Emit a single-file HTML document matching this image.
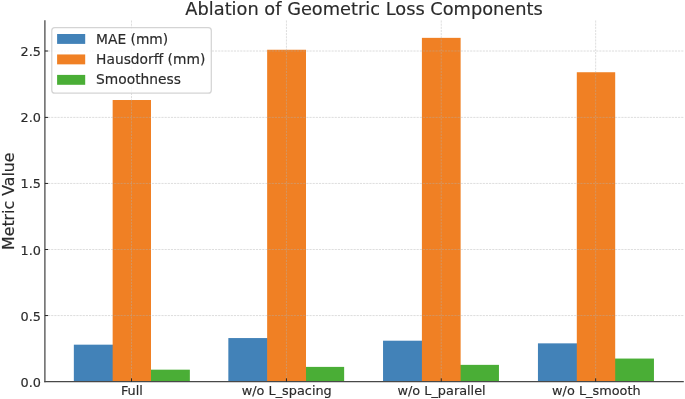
<!DOCTYPE html>
<html lang="en"><head><meta charset="utf-8"><title>Ablation of Geometric Loss Components</title>
<style>html,body{margin:0;padding:0;background:#fff;overflow:hidden}svg{display:block}text{font-family:"DejaVu Sans","Liberation Sans",sans-serif;fill:#2a2a2a;stroke:#2a2a2a;stroke-width:0.16px}</style>
</head><body>
<svg xmlns="http://www.w3.org/2000/svg" width="685" height="399" viewBox="0 0 685 399">
<rect x="0" y="0" width="685" height="399" fill="#ffffff"/>
<g shape-rendering="auto">
<rect x="73.84" y="344.67" width="39.51" height="37.03" fill="#4282B8"/>
<rect x="150.30" y="369.67" width="39.55" height="12.03" fill="#4AAE36"/>
<rect x="112.65" y="100.01" width="38.35" height="281.69" fill="#F08024"/>
<rect x="228.34" y="338.06" width="39.51" height="43.64" fill="#4282B8"/>
<rect x="305.30" y="366.89" width="38.85" height="14.81" fill="#4AAE36"/>
<rect x="267.15" y="49.75" width="38.85" height="331.95" fill="#F08024"/>
<rect x="383.04" y="340.70" width="39.56" height="41.00" fill="#4282B8"/>
<rect x="459.93" y="364.86" width="39.02" height="16.84" fill="#4AAE36"/>
<rect x="421.90" y="37.85" width="38.73" height="343.85" fill="#F08024"/>
<rect x="537.94" y="343.35" width="39.56" height="38.35" fill="#4282B8"/>
<rect x="614.50" y="358.56" width="39.45" height="23.14" fill="#4AAE36"/>
<rect x="576.80" y="72.24" width="38.40" height="309.46" fill="#F08024"/>
</g>
<g stroke="#b0b0b0" stroke-width="0.66" stroke-dasharray="2.15 1.0" fill="none" opacity="0.64">
<line x1="131.50" y1="381.72" x2="131.50" y2="20.30"/>
<line x1="286.45" y1="381.72" x2="286.45" y2="20.30"/>
<line x1="441.25" y1="381.72" x2="441.25" y2="20.30"/>
<line x1="595.65" y1="381.72" x2="595.65" y2="20.30"/>
<line x1="44.90" y1="315.55" x2="683.80" y2="315.55"/>
<line x1="44.90" y1="249.50" x2="683.80" y2="249.50"/>
<line x1="44.90" y1="183.45" x2="683.80" y2="183.45"/>
<line x1="44.90" y1="117.40" x2="683.80" y2="117.40"/>
<line x1="44.90" y1="51.00" x2="683.80" y2="51.00"/>
</g>
<g stroke="#484848" stroke-width="1.27" fill="none">
<line x1="44.90" y1="20.30" x2="44.90" y2="382.35"/>
<line x1="44.27" y1="381.72" x2="683.80" y2="381.72"/>
</g>
<g stroke="#262626" stroke-width="1.0" fill="none">
<line x1="131.50" y1="381.72" x2="131.50" y2="378.32"/>
<line x1="286.45" y1="381.72" x2="286.45" y2="378.32"/>
<line x1="441.25" y1="381.72" x2="441.25" y2="378.32"/>
<line x1="595.65" y1="381.72" x2="595.65" y2="378.32"/>
<line x1="44.90" y1="315.55" x2="48.10" y2="315.55"/>
<line x1="44.90" y1="249.50" x2="48.10" y2="249.50"/>
<line x1="44.90" y1="183.45" x2="48.10" y2="183.45"/>
<line x1="44.90" y1="117.40" x2="48.10" y2="117.40"/>
<line x1="44.90" y1="51.00" x2="48.10" y2="51.00"/>
</g>
<g font-size="12.85" style="stroke-width:0.26px">
<text x="131.90" y="395" text-anchor="middle">Full</text>
<text x="286.75" y="395" text-anchor="middle">w/o L_spacing</text>
<text x="441.60" y="395" text-anchor="middle">w/o L_parallel</text>
<text x="596.35" y="395" text-anchor="middle">w/o L_smooth</text>
<text x="41.0" y="386.75" text-anchor="end">0.0</text>
<text x="41.0" y="320.62" text-anchor="end">0.5</text>
<text x="41.0" y="254.50" text-anchor="end">1.0</text>
<text x="41.0" y="188.38" text-anchor="end">1.5</text>
<text x="41.0" y="122.25" text-anchor="end">2.0</text>
<text x="41.0" y="56.12" text-anchor="end">2.5</text>
</g>
<text font-size="15.8" text-anchor="middle" transform="translate(14.1 201.2) rotate(-90)">Metric Value</text>
<text font-size="17.8" text-anchor="middle" x="364.1" y="14.6">Ablation of Geometric Loss Components</text>
<rect x="51.8" y="27.6" width="159.5" height="65.6" rx="3" ry="3" fill="#ffffff" fill-opacity="0.8" stroke="#cccccc" stroke-opacity="0.85" stroke-width="1.27"/>
<rect x="57.1" y="34.00" width="28.1" height="9.9" fill="#4282B8"/>
<text font-size="13.8" x="96.1" y="43.55">MAE (mm)</text>
<rect x="57.1" y="54.45" width="28.1" height="9.9" fill="#F08024"/>
<text font-size="13.8" x="96.1" y="64.00">Hausdorff (mm)</text>
<rect x="57.1" y="74.90" width="28.1" height="9.9" fill="#4AAE36"/>
<text font-size="13.8" x="96.1" y="84.45">Smoothness</text>
</svg>
</body></html>
